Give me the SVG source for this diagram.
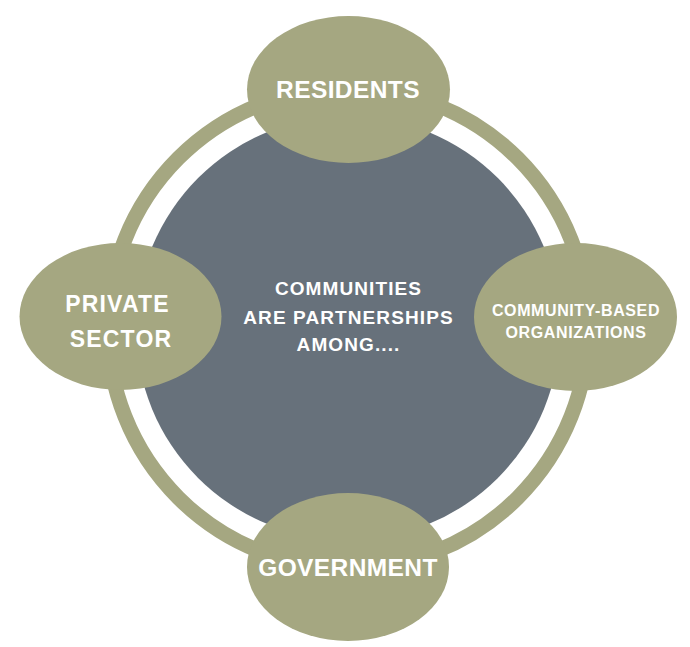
<svg xmlns="http://www.w3.org/2000/svg" width="690" height="647" viewBox="0 0 690 647">
  <style>
    .node { fill: #A5A781; }
    .lbl { font-family: "Liberation Sans", Arial, sans-serif; font-weight: bold; fill: #FFFFFF; text-anchor: middle; }
    .big { font-size: 24.5px; letter-spacing: 0.4px; }
    .mid { font-size: 23px; letter-spacing: 1.2px; }
    .small { font-size: 16px; letter-spacing: 0.6px; }
    .center { font-size: 19px; letter-spacing: 1.1px; }
  </style>
  <rect width="690" height="647" fill="#FFFFFF"/>
  <g id="connectors">
    <circle cx="348" cy="328" r="240" fill="none" stroke="#A5A781" stroke-width="15"/>
  </g>
  <g id="hub">
    <circle cx="348" cy="328" r="212" fill="#67717B"/>
    <text class="lbl center" x="348.5" y="295">COMMUNITIES</text>
    <text class="lbl center" x="348.5" y="324">ARE PARTNERSHIPS</text>
    <text class="lbl center" x="348.5" y="351">AMONG....</text>
  </g>
  <g id="residents">
    <ellipse class="node" cx="348.5" cy="89.5" rx="101.5" ry="73.5"/>
    <text class="lbl big" x="348" y="98">RESIDENTS</text>
  </g>
  <g id="government">
    <ellipse class="node" cx="348" cy="567" rx="101" ry="74"/>
    <text class="lbl big" x="348" y="576">GOVERNMENT</text>
  </g>
  <g id="private-sector">
    <ellipse class="node" cx="120.5" cy="316.5" rx="101" ry="73.5"/>
    <text class="lbl mid" x="117.5" y="311.5">PRIVATE</text>
    <text class="lbl mid" x="121" y="346.5">SECTOR</text>
  </g>
  <g id="community-based-organizations">
    <ellipse class="node" cx="575.5" cy="317" rx="101.5" ry="74"/>
    <text class="lbl small" x="576" y="316">COMMUNITY-BASED</text>
    <text class="lbl small" x="576" y="338">ORGANIZATIONS</text>
  </g>
</svg>
